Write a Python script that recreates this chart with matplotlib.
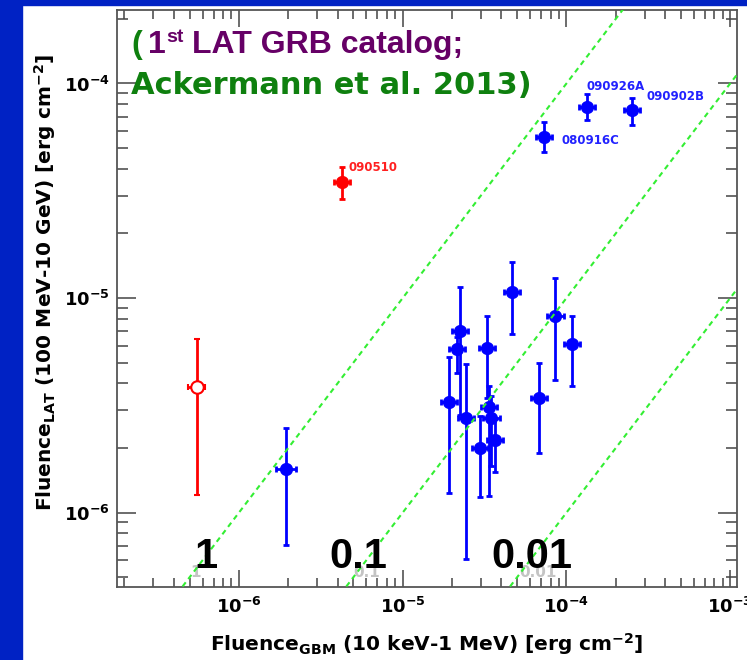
import numpy as np
import matplotlib
matplotlib.use("Agg")
import matplotlib.pyplot as plt
from matplotlib.patches import Rectangle
from matplotlib.ticker import LogLocator, FuncFormatter, NullFormatter

plt.rcParams["font.family"] = ["DejaVu Sans"]
plt.rcParams["font.weight"] = "bold"
plt.rcParams["mathtext.fontset"] = "custom"
plt.rcParams["mathtext.rm"] = "DejaVu Sans:bold"
plt.rcParams["mathtext.it"] = "DejaVu Sans:bold"
plt.rcParams["mathtext.bf"] = "DejaVu Sans:bold"

# blue GRBs: GBM fluence (x) vs LAT fluence (y), erg cm^-2
blue_names = ["", "", "", "", "", "", "", "", "", "", "", "", "", "",
              "080916C", "090926A", "090902B"]
blue_x = [1.95e-6, 1.91e-5, 2.25e-5, 2.14e-5, 2.44e-5, 3.27e-5, 3.36e-5,
          3.48e-5, 3.64e-5, 2.98e-5, 4.63e-5, 6.78e-5, 8.57e-5, 1.08e-4,
          7.28e-5, 1.33e-4, 2.50e-4]
blue_x_lo = [1.69e-6, 1.71e-5, 2.01e-5, 1.91e-5, 2.18e-5, 2.92e-5, 3.00e-5,
             3.11e-5, 3.25e-5, 2.66e-5, 4.13e-5, 6.05e-5, 7.65e-5, 9.64e-5,
             6.50e-5, 1.19e-4, 2.23e-4]
blue_x_hi = [2.24e-6, 2.14e-5, 2.52e-5, 2.40e-5, 2.73e-5, 3.66e-5, 3.76e-5,
             3.90e-5, 4.08e-5, 3.34e-5, 5.19e-5, 7.59e-5, 9.60e-5, 1.21e-4,
             8.15e-5, 1.49e-4, 2.80e-4]
blue_y = [1.60e-6, 3.28e-6, 7.03e-6, 5.77e-6, 2.77e-6, 5.87e-6, 3.09e-6,
          2.77e-6, 2.18e-6, 2.01e-6, 1.07e-5, 3.43e-6, 8.29e-6, 6.09e-6,
          5.66e-5, 7.76e-5, 7.49e-5]
blue_y_lo = [7.10e-7, 1.24e-6, 2.86e-6, 4.45e-6, 6.11e-7, 3.43e-6, 1.20e-6,
             1.64e-6, 1.54e-6, 1.18e-6, 6.78e-6, 1.89e-6, 4.16e-6, 3.90e-6,
             4.78e-5, 6.73e-5, 6.43e-5]
blue_y_hi = [2.47e-6, 5.32e-6, 1.12e-5, 6.60e-6, 4.93e-6, 8.25e-6, 3.90e-6,
             3.50e-6, 2.74e-6, 2.82e-6, 1.47e-5, 4.97e-6, 1.24e-5, 8.25e-6,
             6.59e-5, 8.92e-5, 8.60e-5]
blue_label_offset = [(13, -3), (0, 15), (11, 10)]  # points, for the named ones

# red short GRBs
red_name = "090510"
red_x, red_x_lo, red_x_hi = 4.23e-6, 3.78e-6, 4.74e-6
red_y, red_y_lo, red_y_hi = 3.48e-5, 2.90e-5, 4.06e-5
open_x, open_x_lo, open_x_hi = 5.52e-7, 4.90e-7, 6.20e-7
open_y, open_y_lo, open_y_hi = 3.83e-6, 1.21e-6, 6.42e-6

# LAT/GBM fluence ratio lines
ratios = [1, 0.1, 0.01]
ratio_labels = ["1", "0.1", "0.01"]

xlim = (1.8e-7, 1.1e-3)
ylim = (4.5e-7, 2.2e-4)

GREEN = "#0f800f"
PURPLE = "#660066"
ARIAL = ["Liberation Sans", "DejaVu Sans"]

fig = plt.figure(figsize=(7.47, 6.6), dpi=100)
fig.add_artist(Rectangle((0, 0), 22 / 747, 1, transform=fig.transFigure,
                         color="#0022c4", zorder=-5))
fig.add_artist(Rectangle((0, 655 / 660), 1, 5 / 660, transform=fig.transFigure,
                         color="#0022c4", zorder=-5))

ax = fig.add_axes([117 / 747, 73 / 660, 620 / 747, 577 / 660])
ax.set_xscale("log")
ax.set_yscale("log")
ax.set_xlim(*xlim)
ax.set_ylim(*ylim)

for sp in ax.spines.values():
    sp.set_color("#555555")
    sp.set_linewidth(1.3)


def decade(v, _):
    return r"$\mathrm{10^{%d}}$" % int(round(np.log10(v)))


for axis in (ax.xaxis, ax.yaxis):
    axis.set_major_locator(LogLocator(base=10, numticks=12))
    axis.set_minor_locator(LogLocator(base=10, subs=np.arange(2, 10), numticks=12))
    axis.set_major_formatter(FuncFormatter(decade))
    axis.set_minor_formatter(NullFormatter())

ax.tick_params(which="both", direction="in", top=True, right=True,
               color="#444444", width=1.1, labelsize=13)
ax.tick_params(axis="x", which="major", length=12, pad=7)
ax.tick_params(axis="x", which="minor", length=6.5)
ax.tick_params(axis="y", which="major", length=14, pad=5)
ax.tick_params(axis="y", which="minor", length=8)

# ratio lines
line_x = np.array([1e-8, 1e-1])
for r in ratios:
    ax.plot(line_x, r * line_x, color="#33ee33", lw=1.5,
            linestyle=(0, (2.5, 2.0)), zorder=6)

# ratio labels (small faint ones and big ones)
small_pos = [0.126, 0.403, 0.679]
big_pos = [0.1435, 0.390, 0.669]
for lab, xs, xb in zip(ratio_labels, small_pos, big_pos):
    ax.text(xs, 0.0173, lab, transform=ax.transAxes, ha="center",
            va="baseline", fontsize=11, color="#c4c4c4", zorder=3)
    ax.text(xb, 0.033, lab, transform=ax.transAxes, ha="center",
            va="baseline", fontsize=30, color="black", zorder=8,
            family=ARIAL, fontweight="bold")

# blue points
for i in range(len(blue_x)):
    ax.errorbar([blue_x[i]], [blue_y[i]],
                xerr=[[blue_x[i] - blue_x_lo[i]], [blue_x_hi[i] - blue_x[i]]],
                yerr=[[blue_y[i] - blue_y_lo[i]], [blue_y_hi[i] - blue_y[i]]],
                fmt="o", color="#0000ff", ms=8.5, elinewidth=2, capsize=2.5,
                capthick=2, zorder=5)

named = [i for i, n in enumerate(blue_names) if n]
for i, off in zip(named, blue_label_offset):
    ax.annotate(blue_names[i], (blue_x[i], blue_y[i]), xytext=off,
                textcoords="offset points", fontsize=8.5, color="#2222ff",
                ha="left", va="center", zorder=9)

# red points
ax.errorbar([red_x], [red_y],
            xerr=[[red_x - red_x_lo], [red_x_hi - red_x]],
            yerr=[[red_y - red_y_lo], [red_y_hi - red_y]],
            fmt="o", color="#ff0000", ms=8.5, elinewidth=2, capsize=2.5,
            capthick=2, zorder=5)
ax.annotate(red_name, (red_x, red_y), xytext=(5, 10),
            textcoords="offset points", fontsize=8.5, color="#ff2020",
            ha="left", va="center", zorder=9)
ax.errorbar([open_x], [open_y],
            xerr=[[open_x - open_x_lo], [open_x_hi - open_x]],
            yerr=[[open_y - open_y_lo], [open_y_hi - open_y]],
            fmt="o", color="#ff0000", mfc="white", mec="#ff0000", mew=1.5,
            ms=9, elinewidth=2, capsize=2.5, capthick=2, zorder=5)

# catalog reference
ax.text(0.0226, 0.925, "(", transform=ax.transAxes, ha="left", va="baseline",
        fontsize=23, color=GREEN, family=ARIAL, zorder=9)
ax.text(0.050, 0.925, "1", transform=ax.transAxes, ha="left", va="baseline",
        fontsize=23, color=PURPLE, family=ARIAL, zorder=9)
ax.text(0.079, 0.944, "st", transform=ax.transAxes, ha="left", va="baseline",
        fontsize=14, color=PURPLE, family=ARIAL, zorder=9)
ax.text(0.121, 0.925, "LAT GRB catalog;", transform=ax.transAxes, ha="left",
        va="baseline", fontsize=23, color=PURPLE, family=ARIAL, zorder=9)
ax.text(0.0226, 0.854, "Ackermann et al. 2013)", transform=ax.transAxes,
        ha="left", va="baseline", fontsize=22, color=GREEN, zorder=9)

# axis titles
fig.text(427 / 747, 9 / 660,
         r"Fluence$_{\mathrm{GBM}}$ (10 keV-1 MeV) [erg cm$^{\mathrm{-2}}$]",
         ha="center", va="baseline", fontsize=14.5)
fig.text(45 / 747, 378 / 660,
         r"Fluence$_{\mathrm{LAT}}$ (100 MeV-10 GeV) [erg cm$^{\mathrm{-2}}$]",
         ha="center", va="center", rotation=90, fontsize=14.5)

fig.savefig("out.png", dpi=100)
